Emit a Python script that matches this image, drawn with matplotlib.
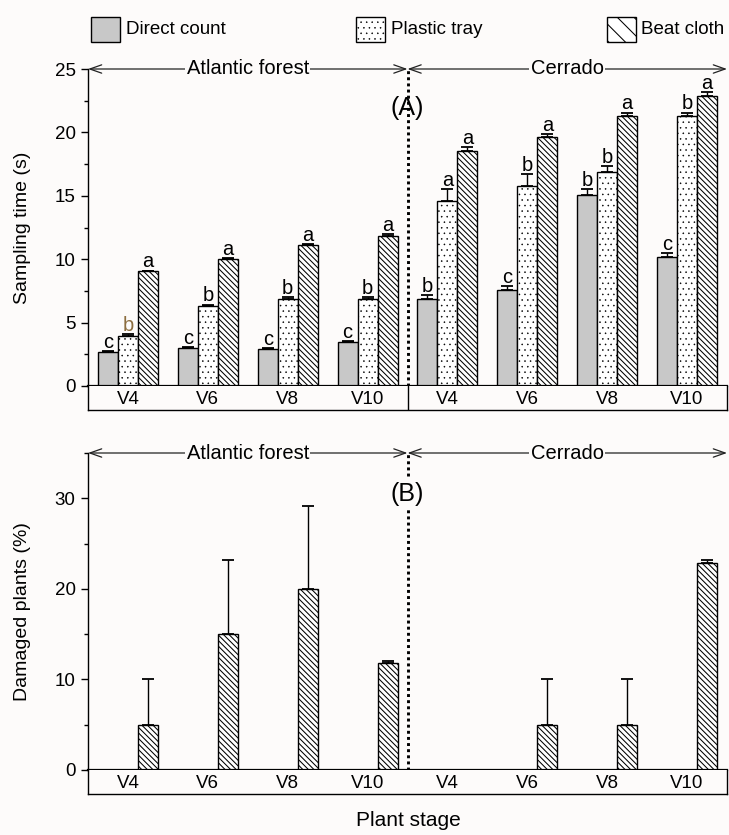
import numpy as np
import matplotlib
matplotlib.use('Agg')
import matplotlib.pyplot as plt
from matplotlib.patches import Rectangle
from matplotlib.ticker import MultipleLocator

plt.rcParams['font.family'] = ['Liberation Sans', 'DejaVu Sans']
plt.rcParams['hatch.linewidth'] = 0.75

# ---------------- data ----------------
stages = ['V4', 'V6', 'V8', 'V10', 'V4', 'V6', 'V8', 'V10']
regions = ['Atlantic forest', 'Cerrado']
methods = ['Direct count', 'Plastic tray', 'Beat cloth']

# Panel A: sampling time (s); Atlantic V4..V10 then Cerrado V4..V10
time_direct = [2.7, 3.0, 2.95, 3.45, 6.85, 7.6, 15.1, 10.2]
time_direct_err = [0.05, 0.1, 0.05, 0.08, 0.3, 0.3, 0.45, 0.26]
time_tray = [3.95, 6.3, 6.9, 6.9, 14.6, 15.8, 16.9, 21.3]
time_tray_err = [0.12, 0.12, 0.08, 0.12, 0.92, 0.92, 0.42, 0.26]
time_cloth = [9.05, 10.0, 11.1, 11.8, 18.55, 19.6, 21.3, 22.9]
time_cloth_err = [0.05, 0.1, 0.12, 0.18, 0.28, 0.26, 0.26, 0.26]
letters_direct = ['c', 'c', 'c', 'c', 'b', 'c', 'b', 'c']
letters_tray = ['b', 'b', 'b', 'b', 'a', 'b', 'b', 'b']
letters_cloth = ['a', 'a', 'a', 'a', 'a', 'a', 'a', 'a']

# Panel B: damaged plants (%) - beat cloth only
damaged_cloth = [5, 15, 20, 11.8, 0, 5, 5, 22.9]
damaged_cloth_err = [5, 8.2, 9.15, 0.2, 0, 5, 5, 0.3]

# ---------------- style ----------------
BG = '#fdfbfa'
GREY = '#c8c8c8'
W, H = 729, 835
fig = plt.figure(figsize=(W / 100, H / 100), dpi=100, facecolor=BG)

def rect(l, t, w, h):
    return [l / W, 1 - (t + h) / H, w / W, h / H]

axA = fig.add_axes(rect(88, 69, 639, 317))
bandA = fig.add_axes(rect(88, 386, 639, 24))
axB = fig.add_axes(rect(88, 453, 639, 317))
bandB = fig.add_axes(rect(88, 770, 639, 24))

x = np.arange(len(stages))
bw = 0.25
offs = [-bw, 0.0, bw]
styles = [dict(facecolor=GREY, hatch=None),
          dict(facecolor='white', hatch='...'),
          dict(facecolor='white', hatch='\\' * 6)]
hatch_lw = [0.75, 0.35, 0.75]

def draw_bars(ax, vals, errs, k, letters=None, letter_colors=None):
    vals = np.asarray(vals, float)
    errs = np.asarray(errs, float)
    m = vals > 0
    off = offs[k]
    with plt.rc_context({'hatch.linewidth': hatch_lw[k]}):
        bars = ax.bar(x[m] + off, vals[m], width=bw, edgecolor='black', linewidth=1.0,
                      zorder=2, **styles[k])
    for b in bars:
        if hasattr(b, 'set_hatch_linewidth'):
            b.set_hatch_linewidth(hatch_lw[k])
    ax.errorbar(x[m] + off, vals[m], yerr=[np.zeros(m.sum()), errs[m]],
                fmt='none', ecolor='black', elinewidth=1.0, capsize=4.5,
                capthick=1.3, zorder=3)
    if letters is not None:
        for i in range(len(vals)):
            c = letter_colors[i] if letter_colors else 'black'
            ax.text(x[i] + off, vals[i] + errs[i] + 0.25, letters[i],
                    ha='center', va='baseline', fontsize=14.5, color=c, zorder=4)

tray_colors = ['#8c6d3f'] + ['black'] * 7
draw_bars(axA, time_direct, time_direct_err, 0, letters_direct)
draw_bars(axA, time_tray, time_tray_err, 1, letters_tray, tray_colors)
draw_bars(axA, time_cloth, time_cloth_err, 2, letters_cloth)
draw_bars(axB, damaged_cloth, damaged_cloth_err, 2)

for ax, top, maj, mnr in [(axA, 25, 5, 2.5), (axB, 35, 10, 5)]:
    ax.set_facecolor(BG)
    ax.set_xlim(-0.5, 7.5)
    ax.set_ylim(0, top)
    ax.spines['top'].set_visible(False)
    ax.spines['right'].set_visible(False)
    ax.spines['left'].set_linewidth(1.0)
    ax.spines['bottom'].set_linewidth(1.6)
    ax.set_xticks([])
    ax.yaxis.set_major_locator(MultipleLocator(maj))
    ax.yaxis.set_minor_locator(MultipleLocator(mnr))
    ax.tick_params(axis='y', which='major', direction='out', length=5, width=1.0,
                   labelsize=13.5, pad=4)
    ax.tick_params(axis='y', which='minor', direction='out', length=3, width=1.0)
    # divider
    ax.plot([3.5, 3.5], [0, top], color='black', lw=2.1, linestyle=(0, (1, 1.1)),
            zorder=3, clip_on=False)
    # region arrows
    for (x0, x1, name) in [(-0.5, 3.5, regions[0]), (3.5, 7.5, regions[1])]:
        ax.annotate('', xy=(x0, top), xytext=(x1, top),
                    arrowprops=dict(arrowstyle='<->,head_length=0.85,head_width=0.3',
                                    color='#222222', lw=0.9, shrinkA=0, shrinkB=0),
                    annotation_clip=False, zorder=5)
        ax.text((x0 + x1) / 2, top, name, ha='center', va='center', fontsize=14.5,
                zorder=6, bbox=dict(facecolor=BG, edgecolor='none', pad=1.0))

axA.text(3.5, 21.95, '(A)', ha='center', va='center', fontsize=18, zorder=6)
axB.text(3.5, 30.5, '(B)', ha='center', va='center', fontsize=18, zorder=6,
         bbox=dict(facecolor=BG, edgecolor='none', pad=3))

for band, divider in [(bandA, True), (bandB, False)]:
    band.set_facecolor(BG)
    band.set_xlim(-0.5, 7.5)
    band.set_ylim(0, 1)
    band.set_xticks([])
    band.set_yticks([])
    band.spines['top'].set_visible(False)
    for s in ['left', 'right', 'bottom']:
        band.spines[s].set_linewidth(1.0)
    if divider:
        band.axvline(3.5, color='black', lw=1.0)
    for i, s in enumerate(stages):
        band.text(x[i], 0.42, s, ha='center', va='center', fontsize=13.5)

axA.set_ylabel('Sampling time (s)', fontsize=14)
axB.set_ylabel('Damaged plants (%)', fontsize=14)
for ax in (axA, axB):
    ax.yaxis.set_label_coords(-57 / 639, 0.5)

fig.text(408 / W, 1 - 820 / H, 'Plant stage', ha='center', va='center', fontsize=15)

# legend (manual, across the top)
leg_hatch = [None, '...', '\\' * 2]
leg_fc = [GREY, 'white', 'white']
for k, (px, tx, lab, hh, fc) in enumerate(zip([91, 356, 607], [126, 391, 641], methods,
                                              leg_hatch, leg_fc)):
    with plt.rc_context({'hatch.linewidth': hatch_lw[k]}):
        r = Rectangle((px / W, 1 - 42 / H), 29 / W, 25 / H, transform=fig.transFigure,
                      facecolor=fc, edgecolor='black', lw=1.0, hatch=hh)
    if hasattr(r, 'set_hatch_linewidth'):
        r.set_hatch_linewidth(hatch_lw[k])
    fig.add_artist(r)
    fig.text(tx / W, 1 - 29.5 / H, lab, ha='left', va='center', fontsize=13.5)

fig.savefig('out.png', dpi=100, facecolor=BG)
